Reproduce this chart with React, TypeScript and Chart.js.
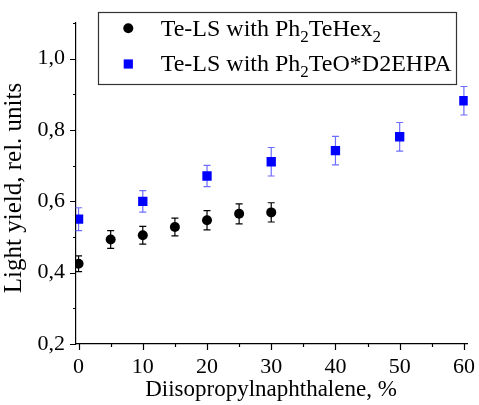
import React, { useEffect, useRef } from 'react';
import { Chart, registerables } from 'chart.js';

Chart.register(...registerables);

// ---- data ----
const xTeHex = [0, 5, 10, 15, 20, 25, 30];
const yTeHex = [0.425, 0.493, 0.505, 0.528, 0.547, 0.565, 0.569];
const eTeHex = [0.022, 0.025, 0.025, 0.025, 0.027, 0.028, 0.027];

const xD2 = [0, 10, 20, 30, 40, 50, 60];
const yD2 = [0.55, 0.6, 0.671, 0.711, 0.742, 0.781, 0.882];
const eD2 = [0.032, 0.03, 0.03, 0.04, 0.04, 0.04, 0.04];

const xMajorTicks = [0, 10, 20, 30, 40, 50, 60];
const xMinorTicks = [5, 15, 25, 35, 45, 55];
const yMajorTicks = [0.2, 0.4, 0.6, 0.8, 1.0];
const yMinorTicks = [0.3, 0.5, 0.7, 0.9, 1.1];

// legend labels as [text, isSubscript] segments
const legendTeHex: [string, boolean][] = [['Te-LS with Ph', false], ['2', true], ['TeHex', false], ['2', true]];
const legendD2: [string, boolean][] = [['Te-LS with Ph', false], ['2', true], ['TeO*D2EHPA', false]];

const xTitle = 'Diisopropylnaphthalene, %';
const yTitle = 'Light yield, rel. units';

const FONT = "'Liberation Serif', 'Times New Roman', serif";
const BLUE = '#0000ff';
const BLUE_ERR = 'rgba(60,60,255,0.75)';

const errorBars = {
  id: 'errorBars',
  beforeDatasetsDraw(chart: any) {
    const ctx = chart.ctx;
    const xs = chart.scales.x;
    const ys = chart.scales.y;
    const sets = [
      { x: xTeHex, y: yTeHex, e: eTeHex, c: '#000' },
      { x: xD2, y: yD2, e: eD2, c: BLUE_ERR },
    ];
    ctx.save();
    ctx.lineWidth = 1.2;
    sets.forEach((s) => {
      ctx.strokeStyle = s.c;
      s.x.forEach((xv, i) => {
        const px = xs.getPixelForValue(xv);
        const top = ys.getPixelForValue(s.y[i] + s.e[i]);
        const bot = ys.getPixelForValue(s.y[i] - s.e[i]);
        ctx.beginPath();
        ctx.moveTo(px, top);
        ctx.lineTo(px, bot);
        ctx.moveTo(px - 3.5, top);
        ctx.lineTo(px + 3.5, top);
        ctx.moveTo(px - 3.5, bot);
        ctx.lineTo(px + 3.5, bot);
        ctx.stroke();
      });
    });
    ctx.restore();
  },
};

function drawSegments(ctx: CanvasRenderingContext2D, segs: [string, boolean][], x: number, y: number, size: number) {
  let cx = x;
  segs.forEach(([t, sub]) => {
    const fs = sub ? Math.round(size * 0.7) : size;
    ctx.font = `${fs}px ${FONT}`;
    ctx.fillText(t, cx, sub ? y + size * 0.27 : y);
    cx += ctx.measureText(t).width;
  });
}

const decor = {
  id: 'decor',
  afterDraw(chart: any) {
    const ctx = chart.ctx;
    const xs = chart.scales.x;
    const ys = chart.scales.y;
    const { left, bottom } = chart.chartArea;
    ctx.save();
    ctx.strokeStyle = '#000';
    ctx.lineWidth = 1.2;
    ctx.beginPath();
    xMajorTicks.forEach((v) => {
      const p = Math.round(xs.getPixelForValue(v)) + 0.5;
      ctx.moveTo(p, bottom);
      ctx.lineTo(p, bottom + 6);
    });
    xMinorTicks.forEach((v) => {
      const p = Math.round(xs.getPixelForValue(v)) + 0.5;
      ctx.moveTo(p, bottom);
      ctx.lineTo(p, bottom + 3);
    });
    yMajorTicks.forEach((v) => {
      const p = Math.round(ys.getPixelForValue(v)) + 0.5;
      ctx.moveTo(left, p);
      ctx.lineTo(left - 6, p);
    });
    yMinorTicks.forEach((v) => {
      const p = Math.round(ys.getPixelForValue(v)) + 0.5;
      ctx.moveTo(left, p);
      ctx.lineTo(left - 3, p);
    });
    ctx.stroke();

    // axis titles
    ctx.fillStyle = '#000';
    ctx.textAlign = 'center';
    ctx.textBaseline = 'alphabetic';
    ctx.font = `23px ${FONT}`;
    ctx.fillText(xTitle, 271, 396);
    ctx.save();
    ctx.translate(21, 188);
    ctx.rotate(-Math.PI / 2);
    ctx.font = `25px ${FONT}`;
    ctx.fillText(yTitle, 0, 0);
    ctx.restore();

    // legend
    ctx.fillStyle = '#fff';
    ctx.fillRect(98.5, 12.5, 358, 72);
    ctx.strokeStyle = '#333';
    ctx.lineWidth = 1.2;
    ctx.strokeRect(98.5, 12.5, 358, 72);
    ctx.fillStyle = '#000';
    ctx.beginPath();
    ctx.arc(128.3, 28.3, 5, 0, Math.PI * 2);
    ctx.fill();
    ctx.fillStyle = BLUE;
    ctx.fillRect(128.3 - 4.6, 64 - 4.6, 9.2, 9.2);
    ctx.fillStyle = '#000';
    ctx.textAlign = 'left';
    drawSegments(ctx, legendTeHex, 160.7, 35.7, 24);
    drawSegments(ctx, legendD2, 160.7, 70.5, 24);
    ctx.restore();
  },
};

export default function App() {
  const ref = useRef<HTMLCanvasElement>(null);
  useEffect(() => {
    if (!ref.current) return;
    const chart = new Chart(ref.current, {
      type: 'scatter',
      data: {
        datasets: [
          {
            label: 'Te-LS with Ph2TeHex2',
            data: xTeHex.map((x, i) => ({ x, y: yTeHex[i] })),
            pointStyle: 'circle',
            pointRadius: 5,
            backgroundColor: '#000',
            borderColor: '#000',
            borderWidth: 0,
          },
          {
            label: 'Te-LS with Ph2TeO*D2EHPA',
            data: xD2.map((x, i) => ({ x, y: yD2[i] })),
            pointStyle: 'rect',
            pointRadius: 6.6,
            backgroundColor: BLUE,
            borderColor: BLUE,
            borderWidth: 0,
          },
        ],
      },
      options: {
        animation: false,
        responsive: false,
        maintainAspectRatio: false,
        layout: { padding: { top: 23, right: 11, left: 0, bottom: 0 } },
        plugins: { legend: { display: false }, tooltip: { enabled: false } },
        scales: {
          x: {
            type: 'linear',
            min: -0.4,
            max: 60.6,
            afterBuildTicks: (s: any) => {
              s.ticks = xMajorTicks.map((v) => ({ value: v }));
            },
            afterFit: (s: any) => {
              s.height = 61;
            },
            grid: { display: false, drawTicks: true, tickLength: 6 },
            border: { display: true, color: '#000', width: 1.2 },
            ticks: {
              color: '#000',
              font: { family: FONT, size: 22 },
              padding: 4,
              maxRotation: 0,
              callback: (v: any) => String(v),
            },
          },
          y: {
            type: 'linear',
            min: 0.2,
            max: 1.1,
            afterBuildTicks: (s: any) => {
              s.ticks = yMajorTicks.map((v) => ({ value: v }));
            },
            afterFit: (s: any) => {
              s.width = 76;
            },
            grid: { display: false, drawTicks: true, tickLength: 6 },
            border: { display: true, color: '#000', width: 1.2 },
            ticks: {
              color: '#000',
              font: { family: FONT, size: 22 },
              padding: 5,
              callback: (v: any) => Number(v).toFixed(1).replace('.', ','),
            },
          },
        },
      },
      plugins: [errorBars, decor],
    });
    return () => chart.destroy();
  }, []);
  return (
    <div style={{ position: 'absolute', left: 0, top: 0, width: 479, height: 405, background: '#fff' }}>
      <canvas ref={ref} width={479} height={405} />
    </div>
  );
}
